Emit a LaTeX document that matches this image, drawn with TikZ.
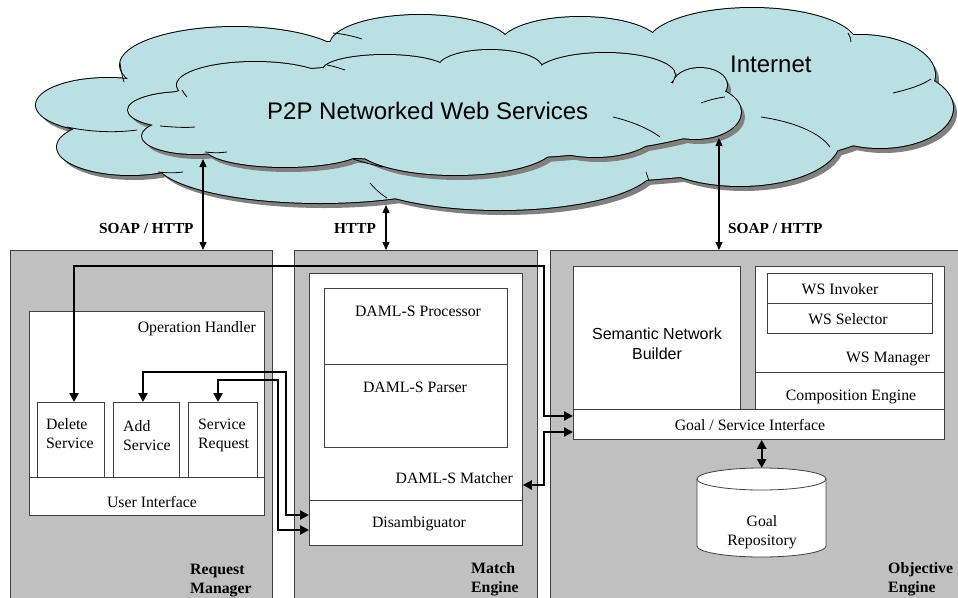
\documentclass[tikz,border=0pt]{standalone}
\usepackage{fontspec}
\setmainfont{Liberation Serif}
\newfontfamily\sansfont{Liberation Sans}
\usetikzlibrary{arrows.meta}
\definecolor{panelgray}{RGB}{192,192,192}
\definecolor{cloudfill}{RGB}{187,224,228}
\definecolor{cloudshadow}{RGB}{128,128,128}
\definecolor{edgegray}{RGB}{64,64,64}

% lobes of the two clouds: centre x / centre y / x radius / y radius
\newcommand\outerlobes{108/105/72/27, 130/147/73/28, 320/160/165/43, 500/165/155/45,
  740/140/100/46, 880/108/73/40, 860/75/75/40, 752/45/105/37, 420/45/90/30,
  580/45/80/28, 235/65/115/38, 500/110/400/75}
\newcommand\innerlobes{185/110/57/18, 195/136/53/18, 285/148/80/19, 455/145/100/30,
  595/130/62/27, 695/112/46/27, 700/85/27/17, 605/75/70/22, 490/68/52/18,
  385/70/62/15, 255/85/78/23, 440/112/290/48}

\begin{document}
\begin{tikzpicture}[x=1pt,y=-1pt,
  panel/.style={draw=edgegray, line width=0.9pt, fill=panelgray, inner sep=0pt, anchor=north west},
  box/.style={draw=edgegray, line width=0.8pt, fill=white, inner sep=0pt, anchor=north west},
  lbl/.style={font=\fontsize{15.8}{19}\selectfont, inner sep=0pt},
  sanslbl/.style={font=\sansfont\fontsize{16}{20}\selectfont, inner sep=0pt},
  cloudlbl/.style={font=\sansfont\fontsize{24}{28}\selectfont, inner sep=0pt, anchor=base west},
  plbl/.style={font=\bfseries\fontsize{15.8}{19}\selectfont, inner sep=0pt, align=left, anchor=base west},
  protolbl/.style={font=\bfseries\fontsize{15.3}{18}\selectfont, inner sep=0pt, anchor=base west},
  link/.style={line width=2.4pt, {Triangle[length=9pt,width=9pt]}-{Triangle[length=9pt,width=9pt]}},
  wire/.style={line width=1.3pt, {Triangle[length=8pt,width=7pt]}-{Triangle[length=8pt,width=7pt]}},
  crease/.style={line width=0.8pt},
]
\useasboundingbox (0,0) rectangle (958,597);

% ---------- clouds ----------
\begin{scope}[shift={(4,5)}]
  \foreach \cx/\cy/\rx/\ry in \outerlobes
    \fill[cloudshadow] (\cx,\cy) ellipse[x radius=\rx pt, y radius=\ry pt];
\end{scope}
\foreach \cx/\cy/\rx/\ry in \outerlobes
  \draw[line width=2pt, fill=cloudfill] (\cx,\cy) ellipse[x radius=\rx pt, y radius=\ry pt];
\foreach \cx/\cy/\rx/\ry in \outerlobes
  \fill[cloudfill] (\cx,\cy) ellipse[x radius=\rx pt, y radius=\ry pt];
\draw[crease] (67,127) .. controls (90,132) and (115,133) .. (137,130);
\draw[crease] (158,172) .. controls (168,173) and (176,173) .. (183,172);
\draw[crease] (370,183) .. controls (376,190) and (382,195) .. (387,198);
\draw[crease] (646,172) .. controls (647,175) and (648,178) .. (649,181);
\draw[crease] (761,117) .. controls (795,122) and (820,133) .. (830,147);
\draw[crease] (893,93) .. controls (910,89) and (922,85) .. (931,79);
\draw[crease] (848,33) .. controls (850,36) and (851,39) .. (851,42);
\draw[crease] (333,33) .. controls (343,34) and (353,36) .. (362,39);
\draw[crease] (120,63) .. controls (121,70) and (122,76) .. (124,82);

\begin{scope}[shift={(4,5)}]
  \foreach \cx/\cy/\rx/\ry in \innerlobes
    \fill[cloudshadow] (\cx,\cy) ellipse[x radius=\rx pt, y radius=\ry pt];
\end{scope}
\foreach \cx/\cy/\rx/\ry in \innerlobes
  \draw[line width=2pt, fill=cloudfill] (\cx,\cy) ellipse[x radius=\rx pt, y radius=\ry pt];
\foreach \cx/\cy/\rx/\ry in \innerlobes
  \fill[cloudfill] (\cx,\cy) ellipse[x radius=\rx pt, y radius=\ry pt];
\draw[crease] (182,90) .. controls (184,93) and (185,95) .. (187,97);
\draw[crease] (160,126) .. controls (172,127) and (185,128) .. (195,127);
\draw[crease] (205,152) .. controls (212,153) and (220,153) .. (227,152);
\draw[crease] (353,159) .. controls (362,162) and (373,165) .. (383,167);
\draw[crease] (327,65) .. controls (333,66) and (339,68) .. (345,70);
\draw[crease] (613,117) .. controls (630,121) and (648,128) .. (660,137);
\draw[crease] (701,103) .. controls (709,100) and (717,98) .. (725,97);

\node[cloudlbl] (inet) at (730,72) {Internet};
\node[cloudlbl] (p2p) at (267,119) {P2P Networked Web Services};

% ---------- the three engines ----------
\node[panel, minimum width=262pt, minimum height=360pt] (rm) at (10,250) {};
\node[panel, minimum width=243pt, minimum height=360pt] (me) at (294,250) {};
\node[panel, minimum width=420pt, minimum height=360pt] (oe) at (550,250) {};

% multi-line labels are placed by the baseline of their last line
\node[plbl] (rmlbl) at (190,593) {Request\\Manager};
\node[plbl] (melbl) at (471,592) {Match\\Engine};
\node[plbl] (oelbl) at (888,592) {Objective\\Engine};

% request manager
\node[box, minimum width=235pt, minimum height=204pt] (oh) at (29,311) {};
\node[lbl, anchor=base east] (ohlbl) at (256,332) {Operation Handler};
\node[box, minimum width=67pt, minimum height=75pt] (del) at (37,402) {};
\node[box, minimum width=66pt, minimum height=75pt] (add) at (113,402) {};
\node[box, minimum width=69pt, minimum height=75pt] (req) at (188,402) {};
\node[lbl, align=left, anchor=base west] (dellbl) at (46,448) {Delete\\Service};
\node[lbl, align=left, anchor=base west] (addlbl) at (123,450) {Add\\Service};
\node[lbl, align=left, anchor=base west] (reqlbl) at (198,448) {Service\\Request};
\node[box, minimum width=235pt, minimum height=38pt] (ui) at (29,477) {};
\node[lbl, anchor=base] (uilbl) at (152,507) {User Interface};

% match engine
\node[box, minimum width=213pt, minimum height=272pt] (dm) at (309,273) {};
\node[box, minimum width=183pt, minimum height=76pt] (proc) at (324,288) {};
\node[box, minimum width=183pt, minimum height=83pt] (pars) at (324,364) {};
\node[lbl, anchor=base] (proclbl) at (418,316) {DAML-S Processor};
\node[lbl, anchor=base] (parslbl) at (415,392) {DAML-S Parser};
\node[lbl, anchor=base east] (dmlbl) at (513,483) {DAML-S Matcher};
\node[box, minimum width=213pt, minimum height=45pt] (dis) at (309,500) {};
\node[lbl, anchor=base] (dislbl) at (419,527) {Disambiguator};

% objective engine
\node[box, minimum width=167pt, minimum height=143pt] (snb) at (573,266) {};
\node[sanslbl, align=center, anchor=base] (snblbl) at (657,359) {Semantic Network\\Builder};
\node[box, minimum width=189pt, minimum height=106pt] (wsm) at (755,266) {};
\node[box, minimum width=165pt, minimum height=30pt] (inv) at (767,273) {};
\node[box, minimum width=165pt, minimum height=30pt] (sel) at (767,303) {};
\node[lbl, anchor=base] (invlbl) at (840,294) {WS Invoker};
\node[lbl, anchor=base] (sellbl) at (848,324) {WS Selector};
\node[lbl, anchor=base east] (wsmlbl) at (930,362) {WS Manager};
\node[box, minimum width=189pt, minimum height=37pt] (comp) at (755,372) {};
\node[lbl, anchor=base] (complbl) at (851,400) {Composition Engine};
\node[box, minimum width=371pt, minimum height=30pt] (gsi) at (573,409) {};
\node[lbl, anchor=base] (gsilbl) at (750,430) {Goal / Service Interface};

% goal repository (cylinder)
\node[inner sep=0pt, minimum width=129pt, minimum height=89pt, anchor=north west] (repo) at (697,468) {};
\draw[draw=edgegray, line width=0.8pt, fill=white]
  (repo.north west) ++(0,11) -- ++(0,67)
  arc[start angle=180, end angle=360, x radius=64.5pt, y radius=11pt]
  -- ++(0,-67)
  arc[start angle=0, end angle=180, x radius=64.5pt, y radius=11pt] -- cycle;
\draw[draw=edgegray, line width=0.8pt]
  (repo.north west) ++(0,11)
  arc[start angle=180, end angle=360, x radius=64.5pt, y radius=11pt];
\node[lbl, align=center, anchor=base] (repolbl) at (762,545) {Goal\\Repository};

% ---------- links to the network ----------
\coordinate (n1) at (203,159);
\coordinate (n2) at (386,205);
\coordinate (n3) at (719,138);
\draw[wire] (n1) -- (n1 |- rm.north);
\draw[wire] (n2) -- (n2 |- me.north);
\draw[wire] (n3) -- (n3 |- oe.north);
\node[protolbl] (soap1) at (99,233) {SOAP / HTTP};
\node[protolbl] (http) at (334,233) {HTTP};
\node[protolbl] (soap2) at (728,233) {SOAP / HTTP};

% ---------- internal links ----------
\coordinate (p1a) at (74,266);
\coordinate (p1b) at (544,266);
\coordinate (p1c) at (544,416);
\draw[link] (p1a |- del.north) -- (p1a) -- (p1b) -- (p1c) -- (p1c -| gsi.west);

\coordinate (p2a) at (544,432);
\coordinate (p2b) at (544,485);
\draw[link] (p2a -| gsi.west) -- (p2a) -- (p2b) -- (p2b -| dm.east);

\coordinate (p3a) at (143,372);
\coordinate (p3b) at (286,372);
\coordinate (p3c) at (286,515);
\draw[link] (p3a |- add.north) -- (p3a) -- (p3b) -- (p3c) -- (p3c -| dis.west);

\coordinate (p4a) at (218,380);
\coordinate (p4b) at (278,380);
\coordinate (p4c) at (278,530);
\draw[link] (p4a |- req.north) -- (p4a) -- (p4b) -- (p4c) -- (p4c -| dis.west);

\draw[link] (repo.north |- gsi.south) -- (repo.north);
\end{tikzpicture}
\end{document}
